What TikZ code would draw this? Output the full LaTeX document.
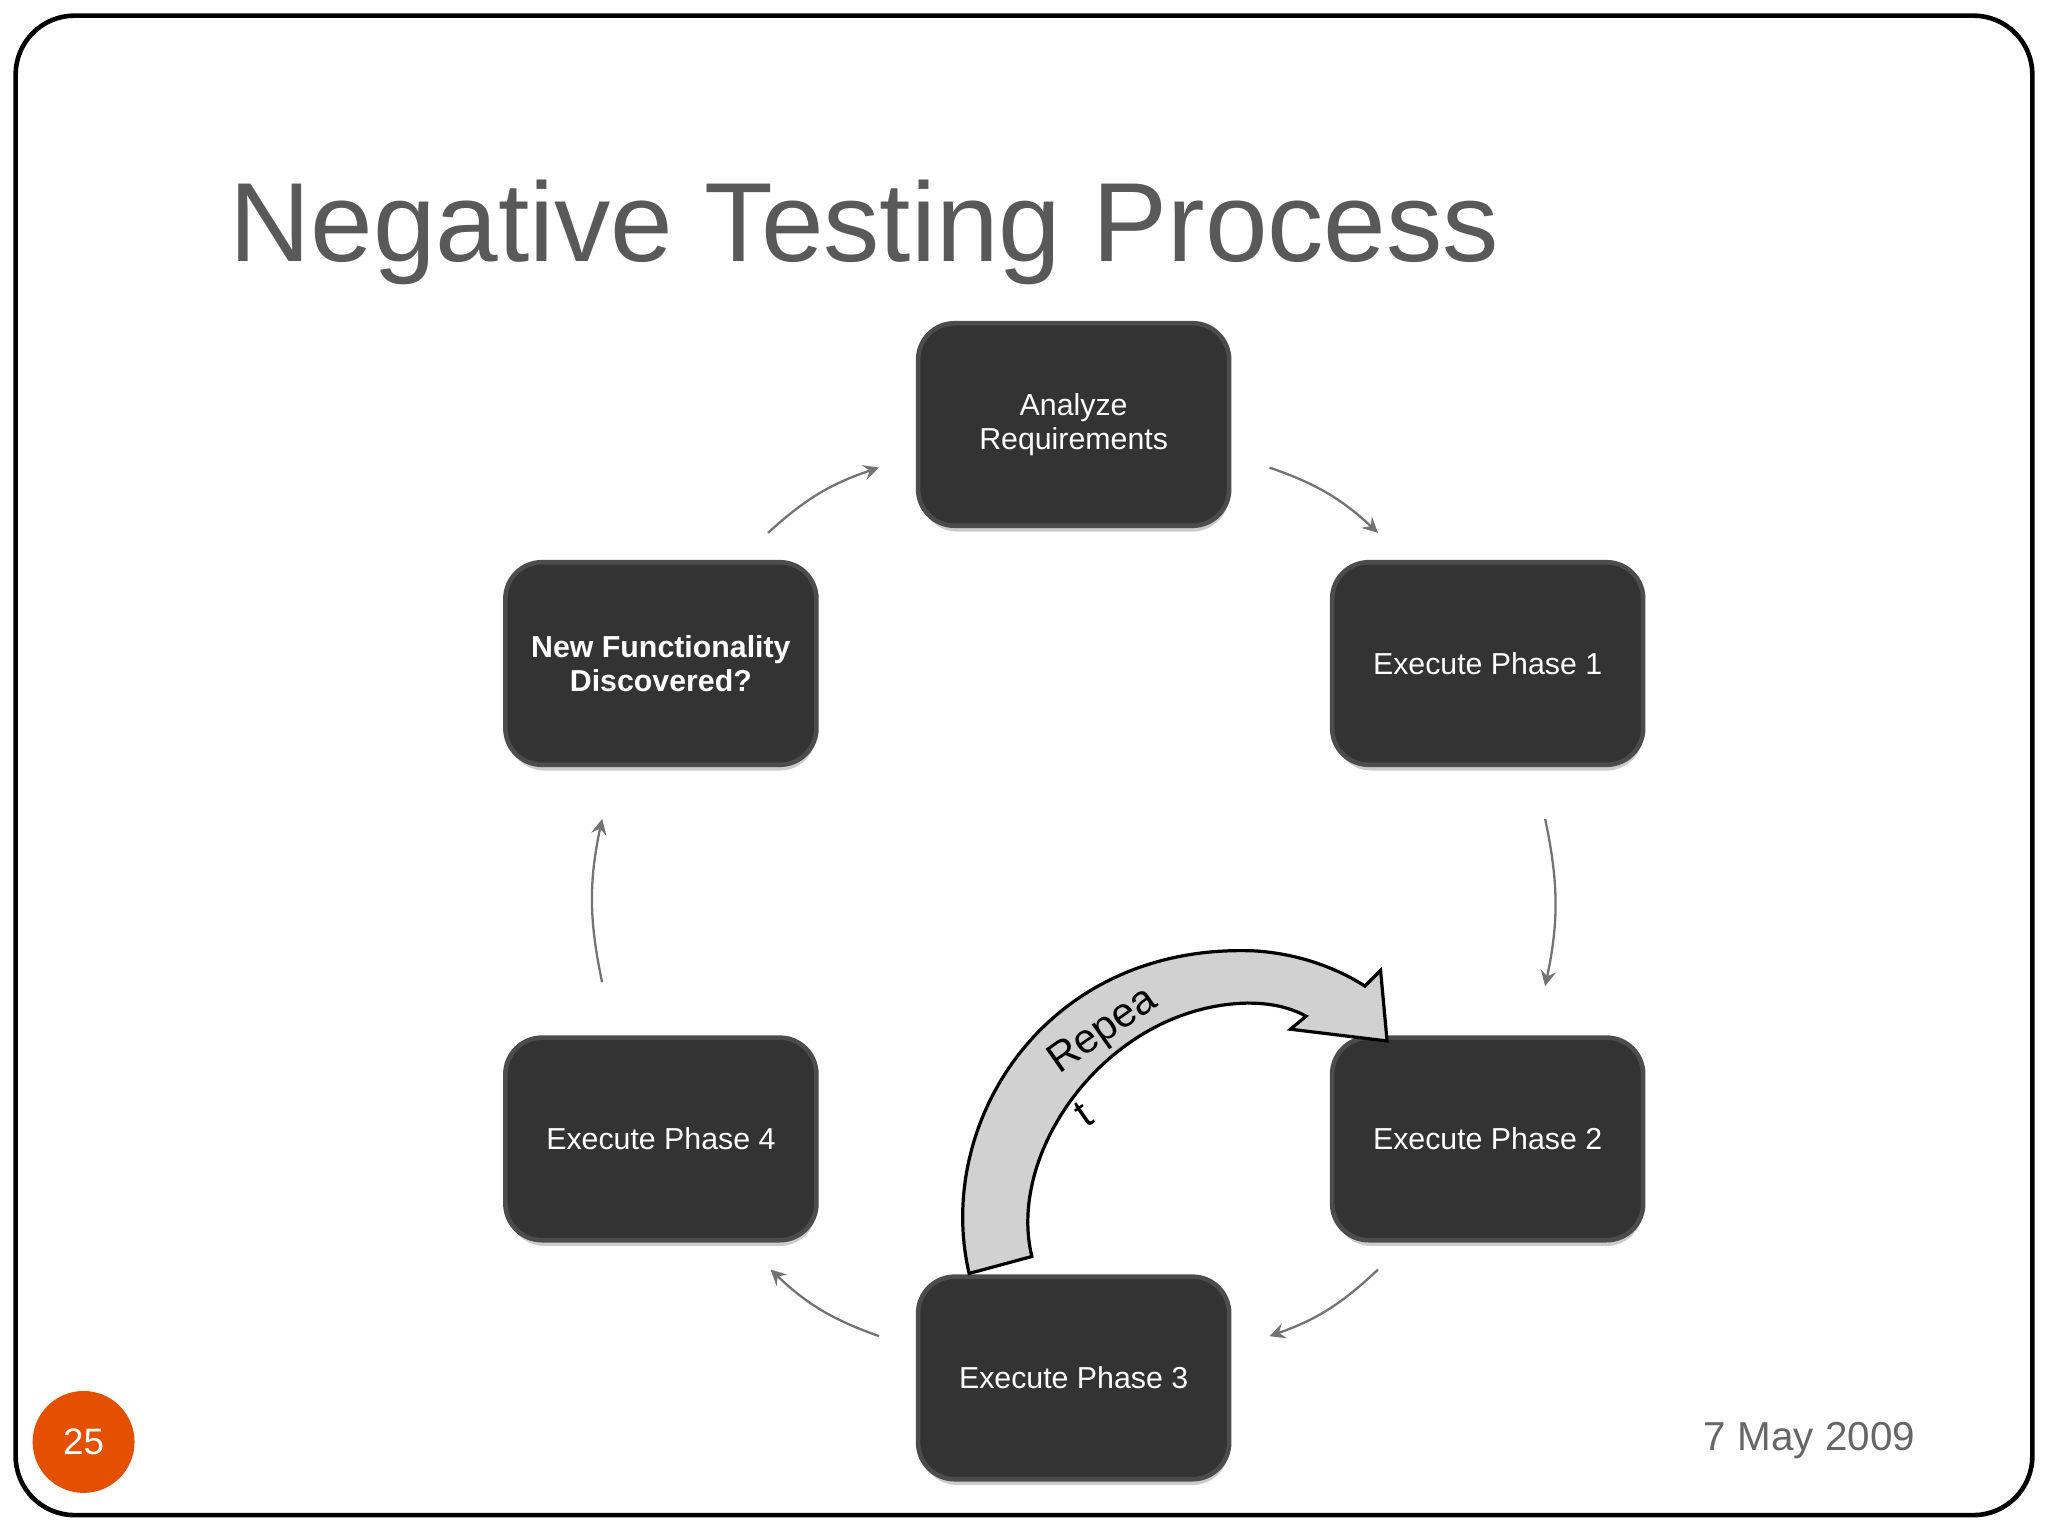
\documentclass[tikz,border=0pt]{standalone}
\usepackage{fontspec}
\setmainfont{Liberation Sans}
\begin{document}
\begin{tikzpicture}[x=0.01cm,y=-0.01cm,
 box/.style={draw=black!70,line width=1pt,fill=black!80,rounded corners=0.28cm,minimum width=2.38cm,minimum height=1.55cm,align=center,text=white,font=\fontsize{6.6}{7.4}\selectfont},
 arr/.style={draw=black!55,line width=0.5pt,-stealth}]
\useasboundingbox (0,0) rectangle (1568,1176);
\draw[line width=1pt,rounded corners=0.45cm] (12,12) rectangle (1556,1160);
\node[anchor=west,inner sep=0pt,text=black!65,font=\fontsize{24.5}{28}\selectfont] (title) at (175,178) {Negative Testing Process};
\foreach \x/\y in {822/325,1139/508,506/508,506/872,1139/872,822/1055}{
 \fill[black!20,rounded corners=0.28cm] (\x-117,\y-72) rectangle (\x+119,\y+82);
}
\node[box] (a) at (822,325) {Analyze\\Requirements};
\node[box] (p1) at (1139,508) {Execute Phase 1};
\node[box,font=\bfseries\fontsize{6.6}{7.4}\selectfont] (nf) at (506,508) {New Functionality\\Discovered?};
\node[box] (p4) at (506,872) {Execute Phase 4};
\node[box] (p2) at (1139,872) {Execute Phase 2};
\node[box] (p3) at (822,1055) {Execute Phase 3};
\coordinate (c1) at (588,408); \coordinate (c2) at (673,358);
\coordinate (c3) at (972,358); \coordinate (c4) at (1055,408);
\coordinate (c5) at (1183,627); \coordinate (c6) at (1183,755);
\coordinate (c7) at (1055,972); \coordinate (c8) at (972,1023);
\coordinate (c9) at (673,1023); \coordinate (c10) at (590,972);
\coordinate (c11) at (461,752); \coordinate (c12) at (461,627);
\draw[arr] (c1) to[bend left=12] (c2);
\draw[arr] (c3) to[bend left=12] (c4);
\draw[arr] (c5) to[bend left=12] (c6);
\draw[arr] (c7) to[bend left=12] (c8);
\draw[arr] (c9) to[bend left=12] (c10);
\draw[arr] (c11) to[bend left=12] (c12);
\draw[fill=black!18,line width=0.7pt] (742,975) .. controls (715,860) and (800,722) .. (960,728) .. controls (995,730) and (1025,742) .. (1045,755) -- (1057,743) -- (1062,797) -- (988,788) -- (1000,778) .. controls (985,770) and (970,768) .. (955,768) .. controls (850,770) and (770,880) .. (790,962) -- cycle;
\node[rotate=35,inner sep=0pt,font=\fontsize{9}{10}\selectfont] (rep) at (845,790) {Repea};
\node[rotate=35,inner sep=0pt,font=\fontsize{9}{10}\selectfont] (rt) at (830,853) {t};
\node[circle,fill=orange!70!red!90!black,minimum size=0.78cm,text=white,font=\fontsize{8}{9}\selectfont] (num) at (64,1104) {25};
\node[anchor=east,inner sep=0pt,text=black!60,font=\fontsize{8.8}{10}\selectfont] (date) at (1467,1103) {7 May 2009};
\end{tikzpicture}
\end{document}
